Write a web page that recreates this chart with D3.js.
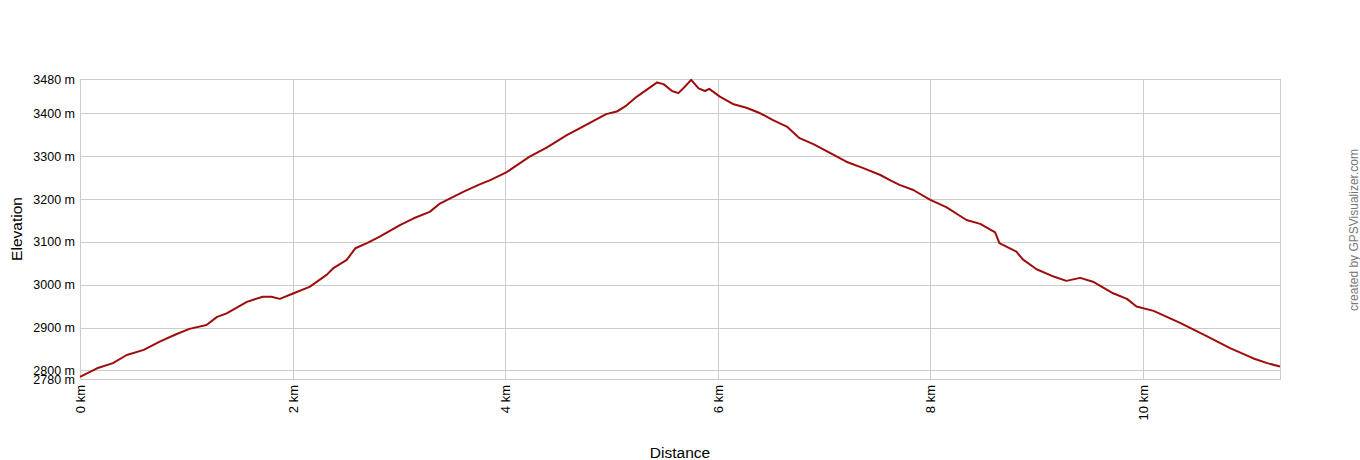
<!DOCTYPE html>
<html lang="en">
<head>
    <meta charset="UTF-8">
    <title>Elevation profile</title>
    <script src="https://d3js.org/d3.v7.min.js"></script>
    <style>
        body { margin: 0; background: #fff; font-family: Arial, "Liberation Sans", sans-serif; }
        svg text { fill: #000; }
    </style>
</head>
<body>
    <svg id="chart"></svg>
    <script>
        // Track profile: distance in km, elevation in m
        const distKm = [
            0, 0.16, 0.31, 0.44, 0.60, 0.75, 0.91, 1.03, 1.19, 1.29, 1.38, 1.57, 1.72, 1.80, 1.88,
            2.01, 2.16, 2.32, 2.38, 2.51, 2.59, 2.70, 2.82, 3.01, 3.14, 3.29, 3.39, 3.61, 3.76, 3.86,
            4.01, 4.23, 4.39, 4.58, 4.70, 4.95, 5.05, 5.14, 5.24, 5.36, 5.43, 5.49, 5.57, 5.63, 5.69,
            5.75, 5.82, 5.88, 5.92, 6.02, 6.15, 6.27, 6.40, 6.52, 6.65, 6.77, 6.90, 7.06, 7.21, 7.37,
            7.53, 7.62, 7.71, 7.84, 8.00, 8.15, 8.34, 8.47, 8.61, 8.65, 8.81, 8.87, 9.00, 9.16, 9.28,
            9.41, 9.53, 9.72, 9.85, 9.94, 10.10, 10.35, 10.60, 10.82, 11.04, 11.17, 11.29
        ];
        const elevM = [
            2785, 2805, 2817, 2836, 2848, 2867, 2885, 2897, 2906, 2925, 2933, 2960, 2972, 2972, 2967,
            2980, 2995, 3023, 3038, 3058, 3085, 3097, 3112, 3139, 3155, 3170, 3190, 3217, 3234, 3244,
            3262, 3299, 3320, 3349, 3365, 3398, 3404, 3418, 3439, 3460, 3472, 3468, 3452, 3447, 3462,
            3478, 3458, 3452, 3457, 3439, 3421, 3413, 3400, 3384, 3369, 3342, 3328, 3307, 3287, 3272,
            3256, 3244, 3233, 3221, 3198, 3181, 3151, 3142, 3122, 3097, 3077, 3059, 3036, 3019, 3009,
            3016, 3007, 2980, 2967, 2949, 2939, 2911, 2880, 2852, 2828, 2817, 2809
        ];
        const yTicks = [2780, 2800, 2900, 3000, 3100, 3200, 3300, 3400, 3480];
        const xTicks = [0, 2, 4, 6, 8, 10];
        const xMaxKm = 11.29;

        const width = 1360, height = 460;
        const margin = { top: 79, right: 80, bottom: 81, left: 80 };

        const svg = d3.select('#chart')
            .attr('width', width)
            .attr('height', height);

        const x = d3.scaleLinear()
            .domain([0, xMaxKm])
            .range([margin.left, width - margin.right]);
        const y = d3.scaleLinear()
            .domain([2780, 3480])
            .range([height - margin.bottom, margin.top]);

        // horizontal grid + y labels
        const yAxis = d3.axisLeft(y)
            .tickValues(yTicks)
            .tickSize(-(width - margin.left - margin.right))
            .tickPadding(5)
            .tickFormat(d => d + ' m');
        const gy = svg.append('g')
            .attr('transform', `translate(${margin.left},0)`)
            .call(yAxis);
        gy.select('.domain').attr('stroke', '#c8c8c8');
        gy.selectAll('.tick line').attr('stroke', '#cccccc').attr('shape-rendering', 'crispEdges');
        gy.selectAll('.tick text')
            .attr('font-family', 'Arial, "Liberation Sans", sans-serif')
            .attr('font-size', 12.5)
            .attr('fill', '#000');

        // vertical grid + rotated x labels
        const xAxis = d3.axisBottom(x)
            .tickValues(xTicks)
            .tickSize(-(height - margin.top - margin.bottom))
            .tickFormat(d => d + ' km');
        const gx = svg.append('g')
            .attr('transform', `translate(0,${height - margin.bottom})`)
            .call(xAxis);
        gx.select('.domain').attr('stroke', '#c8c8c8');
        gx.selectAll('.tick line').attr('stroke', '#cccccc').attr('shape-rendering', 'crispEdges');
        gx.selectAll('.tick text')
            .attr('font-family', 'Arial, "Liberation Sans", sans-serif')
            .attr('font-size', 13)
            .attr('fill', '#000')
            .attr('text-anchor', 'end')
            .attr('dy', '0.35em')
            .attr('transform', 'translate(0,6) rotate(-90)')
            .attr('x', 0)
            .attr('y', 0);

        // right border of the plot
        svg.append('line')
            .attr('x1', x(xMaxKm)).attr('x2', x(xMaxKm))
            .attr('y1', y(3480)).attr('y2', y(2780))
            .attr('stroke', '#cccccc')
            .attr('shape-rendering', 'crispEdges');

        // elevation line
        const line = d3.line()
            .x((d, i) => x(distKm[i]))
            .y(d => y(d));
        svg.append('path')
            .datum(elevM)
            .attr('fill', 'none')
            .attr('stroke', '#9e0b0b')
            .attr('stroke-width', 2)
            .attr('stroke-linejoin', 'round')
            .attr('d', line);

        // axis titles
        svg.append('text')
            .attr('x', x(xMaxKm / 2))
            .attr('y', 458)
            .attr('text-anchor', 'middle')
            .attr('font-size', 15.5)
            .text('Distance');
        svg.append('text')
            .attr('transform', `translate(22,${(margin.top + height - margin.bottom) / 2}) rotate(-90)`)
            .attr('text-anchor', 'middle')
            .attr('font-size', 15.5)
            .text('Elevation');
        svg.append('text')
            .attr('transform', `translate(1358,230) rotate(-90)`)
            .attr('text-anchor', 'middle')
            .attr('font-size', 12)
            .style('fill', '#777')
            .text('created by GPSVisualizer.com');
    </script>
</body>
</html>
